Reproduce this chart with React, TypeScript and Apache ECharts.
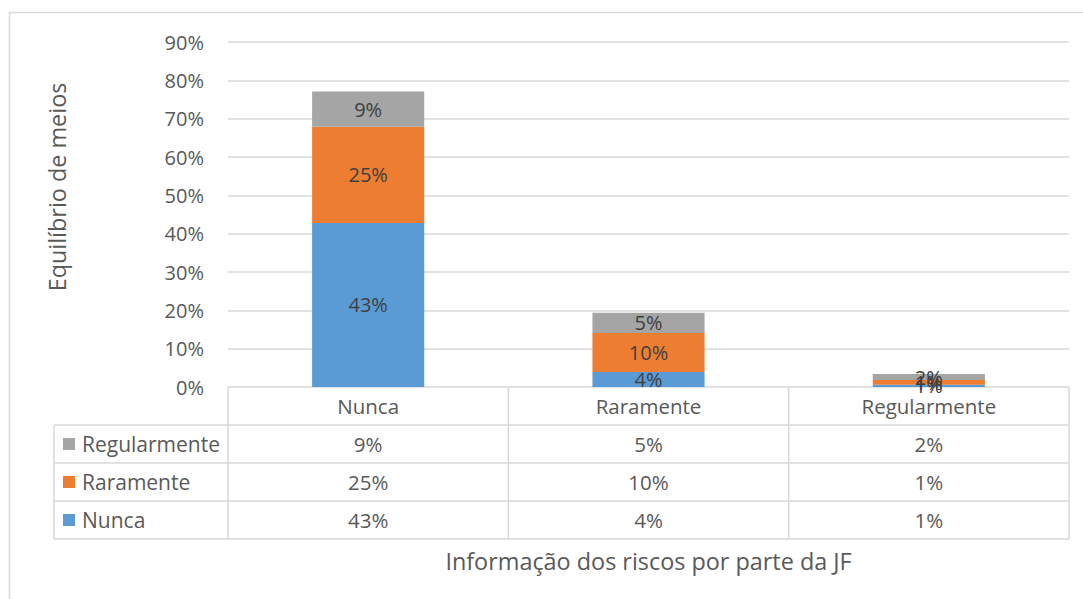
import React, { useEffect, useRef } from "react";
import * as echarts from "echarts";

const categories = ["Nunca", "Raramente", "Regularmente"];
const seriesNames = ["Nunca", "Raramente", "Regularmente"];
const nuncaValues = [42.8, 3.9, 0.6];
const raramenteValues = [25.1, 10.2, 1.2];
const regularmenteValues = [9.2, 5.3, 1.6];
const seriesColors = ["#5B9BD5", "#ED7D31", "#A5A5A5"];
const yTicks = { min: 0, max: 90, interval: 10 };
const yAxisTitle = "Equilíbrio de meios";
const xAxisTitle = "Informação dos riscos por parte da JF";

const W = 1083;
const H = 599;
const FONT = "Open Sans";
const TXT = "#595959";
const LINE = "#D9D9D9";

const gridLeft = 228;
const gridRight = 1069;
const gridTop = 42;
const gridBottom = 387;
const rowH = 38;
const tableLeft = 54;

export default function App() {
  const ref = useRef<HTMLDivElement>(null);
  useEffect(() => {
    if (!ref.current) return;
    const chart = echarts.init(ref.current, undefined, { renderer: "svg" });
    const allValues = [nuncaValues, raramenteValues, regularmenteValues];
    const fmt = (v: number) => Math.round(v) + "%";

    const colW = (gridRight - gridLeft) / categories.length;
    const graphics: any[] = [];
    graphics.push({
      type: "rect",
      shape: { x: 9.5, y: 12.5, width: W, height: H },
      style: { fill: "none", stroke: LINE, lineWidth: 1.5 },
      silent: true,
    });
    const tableBottom = gridBottom + rowH * (seriesNames.length + 1);
    for (let r = 1; r <= seriesNames.length + 1; r++) {
      const y = gridBottom + r * rowH;
      graphics.push({
        type: "line",
        shape: { x1: tableLeft, y1: y, x2: gridRight, y2: y },
        style: { stroke: LINE, lineWidth: 1.5 },
      });
    }
    graphics.push({
      type: "line",
      shape: { x1: tableLeft, y1: gridBottom + rowH, x2: tableLeft, y2: tableBottom },
      style: { stroke: LINE, lineWidth: 1.5 },
    });
    for (let c = 0; c <= categories.length; c++) {
      const x = gridLeft + c * colW;
      graphics.push({
        type: "line",
        shape: { x1: x, y1: gridBottom, x2: x, y2: tableBottom },
        style: { stroke: LINE, lineWidth: 1.5 },
      });
    }
    categories.forEach((cat, c) => {
      graphics.push({
        type: "text",
        x: gridLeft + (c + 0.5) * colW,
        y: gridBottom + rowH / 2,
        style: { text: cat, fill: TXT, font: `20.5px '${FONT}'`, align: "center", verticalAlign: "middle" },
      });
    });
    const order = [2, 1, 0];
    order.forEach((si, r) => {
      const yc = gridBottom + (r + 1.5) * rowH;
      graphics.push({
        type: "rect",
        shape: { x: 63, y: yc - 6, width: 12, height: 12 },
        style: { fill: seriesColors[si] },
      });
      graphics.push({
        type: "text",
        x: 82,
        y: yc,
        style: { text: seriesNames[si], fill: TXT, font: `21px '${FONT}'`, align: "left", verticalAlign: "middle" },
      });
      allValues[si].forEach((v, c) => {
        graphics.push({
          type: "text",
          x: gridLeft + (c + 0.5) * colW,
          y: yc,
          style: { text: fmt(v), fill: TXT, font: `20.5px '${FONT}'`, align: "center", verticalAlign: "middle" },
        });
      });
    });
    graphics.push({
      type: "text",
      x: gridLeft + (gridRight - gridLeft) / 2,
      y: 561,
      style: { text: xAxisTitle, fill: TXT, font: `23.4px '${FONT}'`, align: "center", verticalAlign: "middle" },
    });
    graphics.push({
      type: "text",
      x: 57,
      y: 187,
      rotation: Math.PI / 2,
      style: { text: yAxisTitle, fill: TXT, font: `23.4px '${FONT}'`, align: "center", verticalAlign: "middle" },
    });

    chart.setOption({
      animation: false,
      textStyle: { fontFamily: FONT },
      grid: { left: gridLeft, right: W - gridRight, top: gridTop, bottom: H - gridBottom, containLabel: false },
      xAxis: {
        type: "category",
        data: categories,
        axisLine: { show: false },
        axisTick: { show: false },
        axisLabel: { show: false },
      },
      yAxis: {
        type: "value",
        min: yTicks.min,
        max: yTicks.max,
        interval: yTicks.interval,
        axisLabel: { formatter: "{value}%", color: TXT, fontSize: 20, margin: 24, fontFamily: FONT },
        splitLine: { lineStyle: { color: LINE, width: 1.5 } },
        axisLine: { show: false },
        axisTick: { show: false },
      },
      series: seriesNames.map((n, i) => ({
        name: n,
        type: "bar",
        stack: "total",
        data: allValues[i],
        barWidth: "40%",
        itemStyle: { color: seriesColors[i] },
        label: {
          show: true,
          position: "inside",
          color: "#404040",
          fontSize: 20,
          fontFamily: FONT,
          formatter: (p: any) => fmt(p.value),
        },
      })),
      graphic: graphics,
    });
    return () => chart.dispose();
  }, []);
  return <div ref={ref} style={{ position: "absolute", left: 0, top: 0, width: W, height: H, background: "#fff" }} />;
}
